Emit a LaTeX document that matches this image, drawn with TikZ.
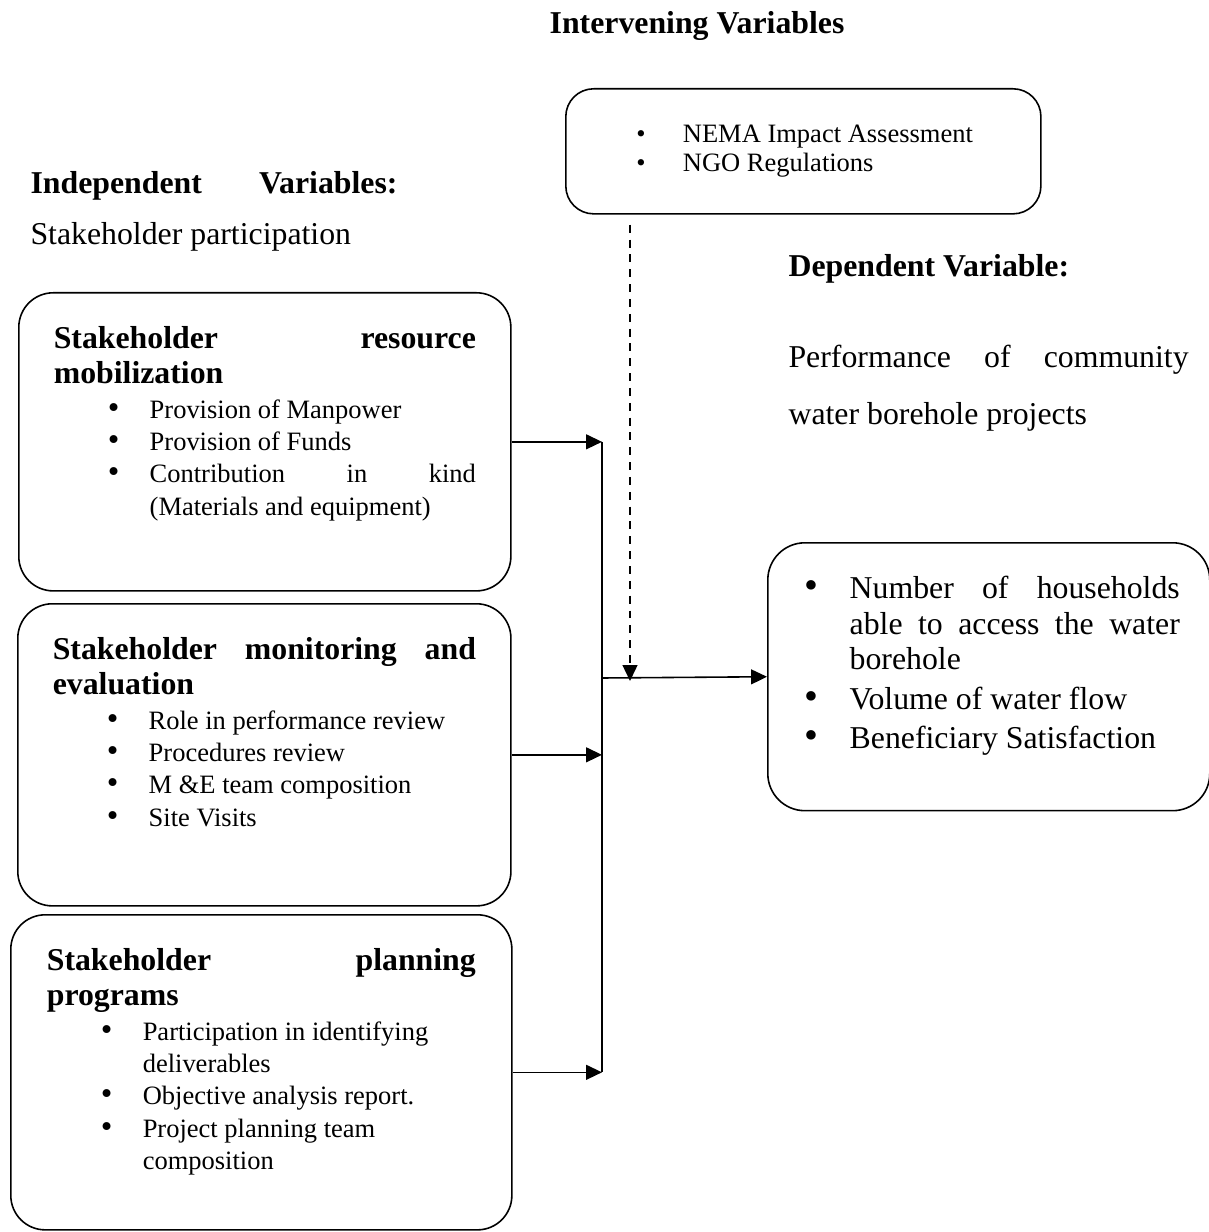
\documentclass[tikz,border=0pt]{standalone}
\usepackage{fontspec}
\setmainfont{Liberation Serif}
\usepackage{enumitem}
\usetikzlibrary{arrows.meta,positioning}

\setlist[itemize]{label=\scalebox{1.25}{\textbullet}, leftmargin=36.2pt, labelwidth=15.8pt, labelsep=0pt, align=left, itemsep=0pt, parsep=0pt, topsep=1pt, partopsep=0pt}

\tikzset{
  varbox/.style={draw, rounded corners=13pt, line width=0.6pt, inner xsep=13.2pt, inner ysep=12.6pt, anchor=north west},
  head/.style={anchor=base west, inner sep=0pt},
  link/.style={line width=0.6pt, -{Triangle[length=6pt,width=5.6pt]}},
  dashlink/.style={link, dash pattern=on 3pt off 2.6pt}
}

\newcommand{\headfont}{\fontsize{12}{13.2}\selectfont\bfseries}
\newcommand{\listfont}{\fontsize{10}{12.2}\selectfont\mdseries}

\begin{document}
\begin{tikzpicture}[x=0.3774pt, y=-0.3774pt, font=\fontsize{12}{13.2}\selectfont]
\useasboundingbox (0,0) rectangle (1208,1232);

% headings
\node[head, anchor=base] (intv) at (697,34) {\textbf{Intervening Variables}};
\node[head] (indep) at (30,194) {\makebox[138.5pt][s]{\textbf{Independent Variables:}}};
\node[head] (partic) at (30,245) {Stakeholder participation};
\node[head] (dep) at (788,277) {\textbf{Dependent Variable:}};
\node[head] (perf) at (788,368) {\parbox[t]{151pt}{\fontsize{12}{21.5}\selectfont
  \makebox[151pt][s]{Performance of community}\\water borehole projects}};

% intervening variables
\node[varbox, rounded corners=10.5pt, inner xsep=10pt, inner ysep=13.8pt] (interv) at (565,88)
  {\parbox[t][19.6pt][t]{159.3pt}{\fontsize{10}{10.8}\selectfont
  \begin{itemize}[label=\textbullet, leftmargin=34.2pt, labelwidth=17.6pt, topsep=0pt]
    \item NEMA Impact Assessment
    \item NGO Regulations
  \end{itemize}}};

% independent variables
\node[varbox] (mob) at (18,292)
  {\parbox[t][87.3pt][t]{159.3pt}{\headfont Stakeholder\hfill resource\\mobilization\par\listfont
  \begin{itemize}
    \item Provision of Manpower
    \item Provision of Funds
    \item Contribution\hfill in\hfill kind\\(Materials and equipment)
  \end{itemize}}};
\node[varbox] (mon) at (17,603)
  {\parbox[t][88.8pt][t]{159.7pt}{\headfont Stakeholder\hfill monitoring\hfill and\\evaluation\par\listfont
  \begin{itemize}
    \item Role in performance review
    \item Procedures review
    \item M \&E team composition
    \item Site Visits
  \end{itemize}}};
\node[varbox, inner xsep=13.6pt] (plan) at (10,914)
  {\parbox[t][93.7pt][t]{161.9pt}{\headfont Stakeholder\hfill planning\\programs\par\listfont
  \begin{itemize}
    \item Participation in identifying\\deliverables
    \item Objective analysis report.
    \item Project planning team\\composition
  \end{itemize}}};

% dependent variable
\node[varbox, rounded corners=14pt, inner xsep=11.3pt] (perfbox) at (767,542)
  {\parbox[t][75.9pt][t]{144.2pt}{\fontsize{12}{13.4}\selectfont
  \begin{itemize}[leftmargin=19.6pt, labelwidth=17pt, topsep=0pt, itemsep=1.5pt]
    \item Number\hfill of\hfill households\\able\hfill to\hfill access\hfill the\hfill water\\borehole
    \item Volume of water flow
    \item Beneficiary Satisfaction
  \end{itemize}}};

% connectors
\coordinate (joint) at (602,678);
\coordinate (dashend) at (630,681);
\draw[link] (mob.east) -- (mob.east -| joint);
\draw[link] (mon.east) -- (mon.east -| joint);
\draw[link] (plan.east) -- (plan.east -| joint);
\draw[line width=0.6pt] (mob.east -| joint) -- (plan.east -| joint);
\draw[link] (joint) -- (perfbox.west);
\draw[dashlink, shorten <=3.8pt] (interv.south -| dashend) -- (dashend);
\end{tikzpicture}
\end{document}
